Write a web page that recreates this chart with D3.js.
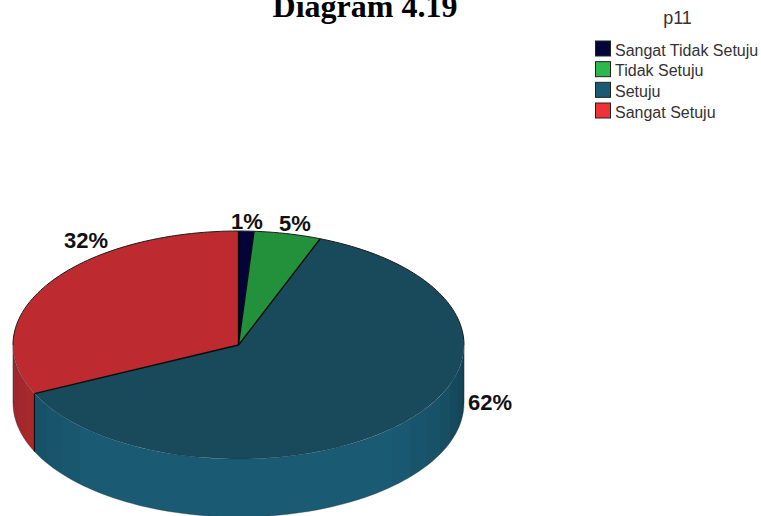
<!DOCTYPE html>
<html><head><meta charset="utf-8">
<script src="https://cdnjs.cloudflare.com/ajax/libs/d3/7.8.5/d3.min.js"></script>
<style>html,body{margin:0;padding:0;background:#fff;overflow:hidden}svg{display:block}</style>
</head><body><svg id="c" width="761" height="516"></svg>
<script>
const categories = ["Sangat Tidak Setuju","Tidak Setuju","Setuju","Sangat Setuju"];
const values = [1.1,4.8,62.1,32];
const labels = ["1%","5%","62%","32%"];
const topColors = ["#04043a","#23903c","#184a5c","#bd2a2f"];
const legendColors = ["#04043a","#2db84d","#1a5a73","#ee3338"];
const sideEdge = ["#04043a","#1c7a32","#113c4c","#94262a"];
const sideMid = ["#04043a","#23903c","#1a5a73","#b32b30"];

const W=761,H=516, cx=238.5, cy=345, rx=225.5, ry=114, depth=58;
const svg=d3.select("#c");
const defs=svg.append("defs");
const pie=d3.pie().sort(null).value(d=>d)(values);
const px=a=>cx+rx*Math.sin(a), py=a=>cy-ry*Math.cos(a);

// side wall: one path per slice, filled with a stepped horizontal gradient
const band=Math.PI/26;
const side=svg.append("g");
pie.forEach((s,i)=>{
  const a0=Math.max(s.startAngle,Math.PI/2), a1=Math.min(s.endAngle,Math.PI*1.5);
  if(a1<=a0) return;
  const col=d3.scaleLinear().domain([0,1]).range([sideEdge[i],sideMid[i]]).interpolate(d3.interpolateRgb);
  const n=Math.max(1,Math.ceil((a1-a0)/band));
  const step=d3.scaleLinear().domain([0,n]).range([a0,a1]);
  const x0=px(a0), x1=px(a1);
  const off=d3.scaleLinear().domain([x0,x1]).range([0,1]);
  const grad=defs.append("linearGradient").attr("id","wall"+i)
    .attr("gradientUnits","userSpaceOnUse").attr("x1",x0).attr("x2",x1).attr("y1",0).attr("y2",0);
  d3.range(n).forEach(k=>{
    const b0=step(k), b1=step(k+1), mid=(b0+b1)/2;
    const t=Math.min(1,Math.pow(Math.abs(Math.cos(mid)),0.8)*1.25);
    grad.append("stop").attr("offset",off(px(b0))).attr("stop-color",col(t));
    grad.append("stop").attr("offset",off(px(b1))).attr("stop-color",col(t));
  });
  const angs=d3.range(0,81).map(j=>a0+(a1-a0)*j/80);
  const outline=angs.map(a=>[px(a),py(a)]).concat(angs.slice().reverse().map(a=>[px(a),py(a)+depth]));
  side.append("path").attr("d",d3.line()(outline)+"Z").attr("fill",`url(#wall${i})`);
});

// silhouette of the wall
const wallAngs=d3.range(0,121).map(j=>Math.PI/2+Math.PI*j/120);
side.append("path")
  .attr("d",d3.line()(wallAngs.map(a=>[px(a),py(a)+depth])))
  .attr("fill","none").attr("stroke","#2a2a2a").attr("stroke-opacity",0.35).attr("stroke-width",1);
[Math.PI/2,Math.PI*1.5].forEach(a=>{
  side.append("line").attr("x1",px(a)).attr("x2",px(a)).attr("y1",py(a)).attr("y2",py(a)+depth)
    .attr("stroke","#2a2a2a").attr("stroke-opacity",0.5).attr("stroke-width",1);
});

// vertical edge between red and teal on the wall
const seam=pie[2].endAngle;
side.append("line").attr("x1",px(seam)).attr("x2",px(seam)).attr("y1",py(seam)).attr("y2",py(seam)+depth)
  .attr("stroke","#111").attr("stroke-width",1.2);

// top face
const arc=d3.arc().innerRadius(0).outerRadius(rx);
const topG=svg.append("g").attr("transform",`translate(${cx},${cy}) scale(1,${ry/rx})`);
topG.selectAll("path").data(pie).join("path").attr("d",arc)
  .attr("fill",(d,i)=>topColors[i]);

// dark radial borders and rim
const rim=svg.append("g").attr("fill","none");
pie.forEach((s,i)=>{
  rim.append("line").attr("x1",cx).attr("y1",cy).attr("x2",px(s.startAngle)).attr("y2",py(s.startAngle))
    .attr("stroke","#0a0a0a").attr("stroke-width",1.3);
});
rim.append("path")
  .attr("d",d3.line()(d3.range(0,121).map(j=>{const a=-Math.PI/2+Math.PI*j/120;return [px(a),py(a)];})))
  .attr("stroke","#1a1a1a").attr("stroke-width",1);
rim.append("path")
  .attr("d",d3.line()(wallAngs.map(a=>[px(a),py(a)])))
  .attr("stroke","#123845").attr("stroke-opacity",0.35).attr("stroke-width",0.8);

// percent labels
const labelX=[247,295,490,86], labelY=[221,223,402,240];
svg.append("g").selectAll("text").data(labels).join("text")
  .attr("x",(d,i)=>labelX[i]).attr("y",(d,i)=>labelY[i])
  .attr("text-anchor","middle").attr("dominant-baseline","central")
  .attr("font-family","'Liberation Sans',Arial,sans-serif").attr("font-weight","bold")
  .attr("font-size",22).attr("fill","#111").text(d=>d);

// title: sits against the top edge of the page, as in the reference
svg.append("text").attr("x",365).attr("y",17).attr("text-anchor","middle")
  .attr("font-family","'Liberation Serif','Times New Roman',serif").attr("font-weight","bold")
  .attr("font-size",32).attr("fill","#000").text("Diagram 4.19");

// legend
svg.append("text").attr("x",677.5).attr("y",24).attr("text-anchor","middle")
  .attr("font-family","'Liberation Sans',Arial,sans-serif").attr("font-size",18).attr("fill","#333").text("p11");
const ly=d3.scalePoint().domain(categories).range([50,112]);
const lg=svg.append("g").selectAll("g").data(categories).join("g")
  .attr("transform",d=>`translate(0,${ly(d)})`);
lg.append("rect").attr("x",595.5).attr("y",-9).attr("width",15).attr("height",15)
  .attr("fill",(d,i)=>legendColors[i]).attr("stroke","#222").attr("stroke-width",1);
lg.append("text").attr("x",615).attr("y",0).attr("dominant-baseline","central")
  .attr("font-family","'Liberation Sans',Arial,sans-serif").attr("font-size",16).attr("fill","#333").text(d=>d);
</script></body></html>
